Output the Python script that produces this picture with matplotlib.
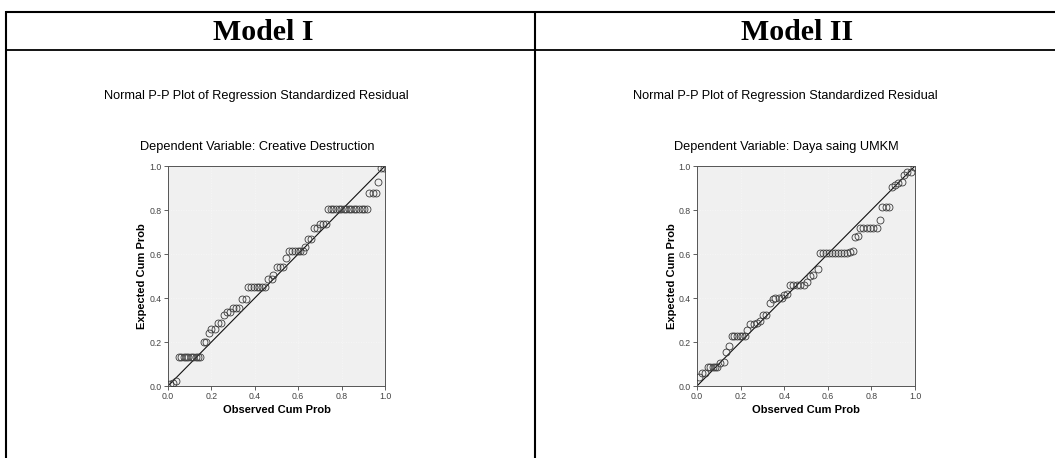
import matplotlib
matplotlib.use("Agg")
import matplotlib.pyplot as plt

# ---------------- data ----------------
headers = ["Model I", "Model II"]
main_title = "Normal P-P Plot of Regression Standardized Residual"
subtitles = ["Dependent Variable: Creative Destruction",
             "Dependent Variable: Daya saing UMKM"]
xlabel = "Observed Cum Prob"
ylabel = "Expected Cum Prob"
tick_values = [0.0, 0.2, 0.4, 0.6, 0.8, 1.0]
tick_labels = ["0.0", "0.2", "0.4", "0.6", "0.8", "1.0"]

obs1 = [0.011, 0.023, 0.038,
        0.050, 0.061, 0.072, 0.083, 0.094, 0.105, 0.116, 0.127, 0.137, 0.147,
        0.165, 0.177, 0.189, 0.200, 0.215, 0.231, 0.246, 0.257, 0.274, 0.288,
        0.300, 0.315, 0.328, 0.343, 0.358,
        0.369, 0.382, 0.395, 0.408, 0.420, 0.433, 0.446,
        0.462, 0.477, 0.485, 0.500, 0.515, 0.530, 0.543,
        0.558, 0.571, 0.584, 0.597, 0.610, 0.623, 0.630,
        0.643, 0.658, 0.672, 0.688, 0.700, 0.715, 0.730,
        0.738, 0.750, 0.762, 0.774, 0.786, 0.798, 0.809, 0.821, 0.833, 0.845,
        0.856, 0.868, 0.880, 0.892, 0.903, 0.915,
        0.927, 0.943, 0.958, 0.970, 0.980, 0.995]
exp1 = [0.009, 0.015, 0.024,
        0.133, 0.133, 0.133, 0.133, 0.133, 0.133, 0.133, 0.133, 0.133, 0.133,
        0.200, 0.200, 0.242, 0.258, 0.258, 0.288, 0.288, 0.323, 0.338, 0.338,
        0.356, 0.356, 0.356, 0.394, 0.394,
        0.448, 0.448, 0.448, 0.448, 0.448, 0.448, 0.448,
        0.485, 0.485, 0.505, 0.542, 0.542, 0.542, 0.580,
        0.615, 0.615, 0.615, 0.615, 0.615, 0.615, 0.633,
        0.670, 0.670, 0.720, 0.720, 0.735, 0.735, 0.735,
        0.806, 0.806, 0.806, 0.806, 0.806, 0.806, 0.806, 0.806, 0.806, 0.806,
        0.806, 0.806, 0.806, 0.806, 0.806, 0.806,
        0.876, 0.876, 0.876, 0.926, 0.990, 0.990]

obs2 = [0.008, 0.023, 0.038,
        0.050, 0.061, 0.072, 0.083, 0.094,
        0.104, 0.122, 0.135, 0.148,
        0.160, 0.172, 0.184, 0.196, 0.208, 0.221,
        0.229, 0.244, 0.260, 0.275, 0.290, 0.302, 0.318, 0.333, 0.348,
        0.359, 0.374, 0.389, 0.400, 0.415,
        0.427, 0.442, 0.458, 0.473, 0.489,
        0.504, 0.519, 0.534, 0.553,
        0.565, 0.579, 0.592, 0.606, 0.619, 0.633, 0.646, 0.660, 0.673, 0.687,
        0.702, 0.715, 0.725, 0.737,
        0.748, 0.763, 0.778, 0.793, 0.809, 0.824,
        0.840, 0.850, 0.865, 0.880,
        0.893, 0.908, 0.924, 0.940, 0.950, 0.965, 0.982, 0.995]
exp2 = [0.040, 0.058, 0.060,
        0.085, 0.085, 0.085, 0.085, 0.085,
        0.103, 0.110, 0.156, 0.180,
        0.229, 0.229, 0.229, 0.229, 0.229, 0.229,
        0.255, 0.282, 0.282, 0.288, 0.297, 0.321, 0.324, 0.379, 0.394,
        0.398, 0.398, 0.398, 0.414, 0.418,
        0.459, 0.459, 0.459, 0.459, 0.459,
        0.474, 0.500, 0.505, 0.532,
        0.603, 0.603, 0.603, 0.603, 0.603, 0.603, 0.603, 0.603, 0.603, 0.603,
        0.609, 0.615, 0.679, 0.682,
        0.717, 0.717, 0.717, 0.717, 0.717, 0.717,
        0.755, 0.815, 0.815, 0.815,
        0.906, 0.914, 0.924, 0.926, 0.959, 0.973, 0.974, 0.994]

series = [(obs1, exp1), (obs2, exp2)]

# ---------------- layout ----------------
W, H = 1055, 458
fig = plt.figure(figsize=(W / 100, H / 100), dpi=100)
fig.patch.set_facecolor("white")

bg = fig.add_axes([0, 0, 1, 1])
bg.set_xlim(0, W)
bg.set_ylim(H, 0)
bg.axis("off")

lw_border = 1.5
bg.plot([6, W], [12, 12], color="black", lw=lw_border, solid_capstyle="butt")
bg.plot([6, W], [50, 50], color="black", lw=1.3, solid_capstyle="butt")
bg.plot([6, 6], [11, H], color="black", lw=lw_border, solid_capstyle="butt")
bg.plot([535, 535], [11, H], color="black", lw=lw_border, solid_capstyle="butt")

serif = ["Liberation Serif", "DejaVu Serif"]
sans = ["Liberation Sans", "DejaVu Sans"]

header_x = [263, 797]
title_x = [256, 785]
sub_x = [257, 786]
ylab_x = [142, 672]
axes_px = [(168, 166, 385, 386), (697, 166, 915, 386)]

for i in range(2):
    bg.text(header_x[i], 32, headers[i], family=serif, weight="bold",
            fontsize=21.5, ha="center", va="center", color="black")
    bg.text(title_x[i], 96, main_title, family=sans, fontsize=9.2,
            ha="center", va="center", color="black")
    bg.text(sub_x[i], 147, subtitles[i], family=sans, fontsize=9.2,
            ha="center", va="center", color="black")
    x0, y0, x1, y1 = axes_px[i]
    bg.text(ylab_x[i], (y0 + y1) / 2, ylabel, family=sans, weight="bold",
            fontsize=8, ha="center", va="center", rotation=90, color="black")
    bg.text((x0 + x1) / 2, 410, xlabel, family=sans, weight="bold",
            fontsize=8, ha="center", va="center", color="black")

    ax = fig.add_axes([x0 / W, 1 - y1 / H, (x1 - x0) / W, (y1 - y0) / H])
    ax.set_facecolor("#f0f0f0")
    ax.set_xlim(0, 1)
    ax.set_ylim(0, 1)
    ax.grid(True, color="#f8f8f8", lw=0.6, linestyle=(0, (1, 2)))
    ax.set_axisbelow(True)
    ax.plot([0, 1], [0, 1], color="#111111", lw=0.8, zorder=2)
    ox, ey = series[i]
    ax.plot(ox, ey, linestyle="none", marker="o", markersize=5,
            markerfacecolor="none", markeredgecolor="#3a3a3a",
            markeredgewidth=0.6, zorder=3)
    ax.set_xticks(tick_values)
    ax.set_xticklabels(tick_labels)
    ax.set_yticks(tick_values)
    ax.set_yticklabels(tick_labels)
    ax.tick_params(axis="both", direction="out", length=3, width=0.6,
                   colors="#444444", labelsize=6.3, pad=1.5)
    for lab in ax.get_xticklabels() + ax.get_yticklabels():
        lab.set_family(sans)
    for s in ax.spines.values():
        s.set_color("#555555")
        s.set_linewidth(0.7)

fig.savefig("out.png", dpi=100, facecolor="white")
